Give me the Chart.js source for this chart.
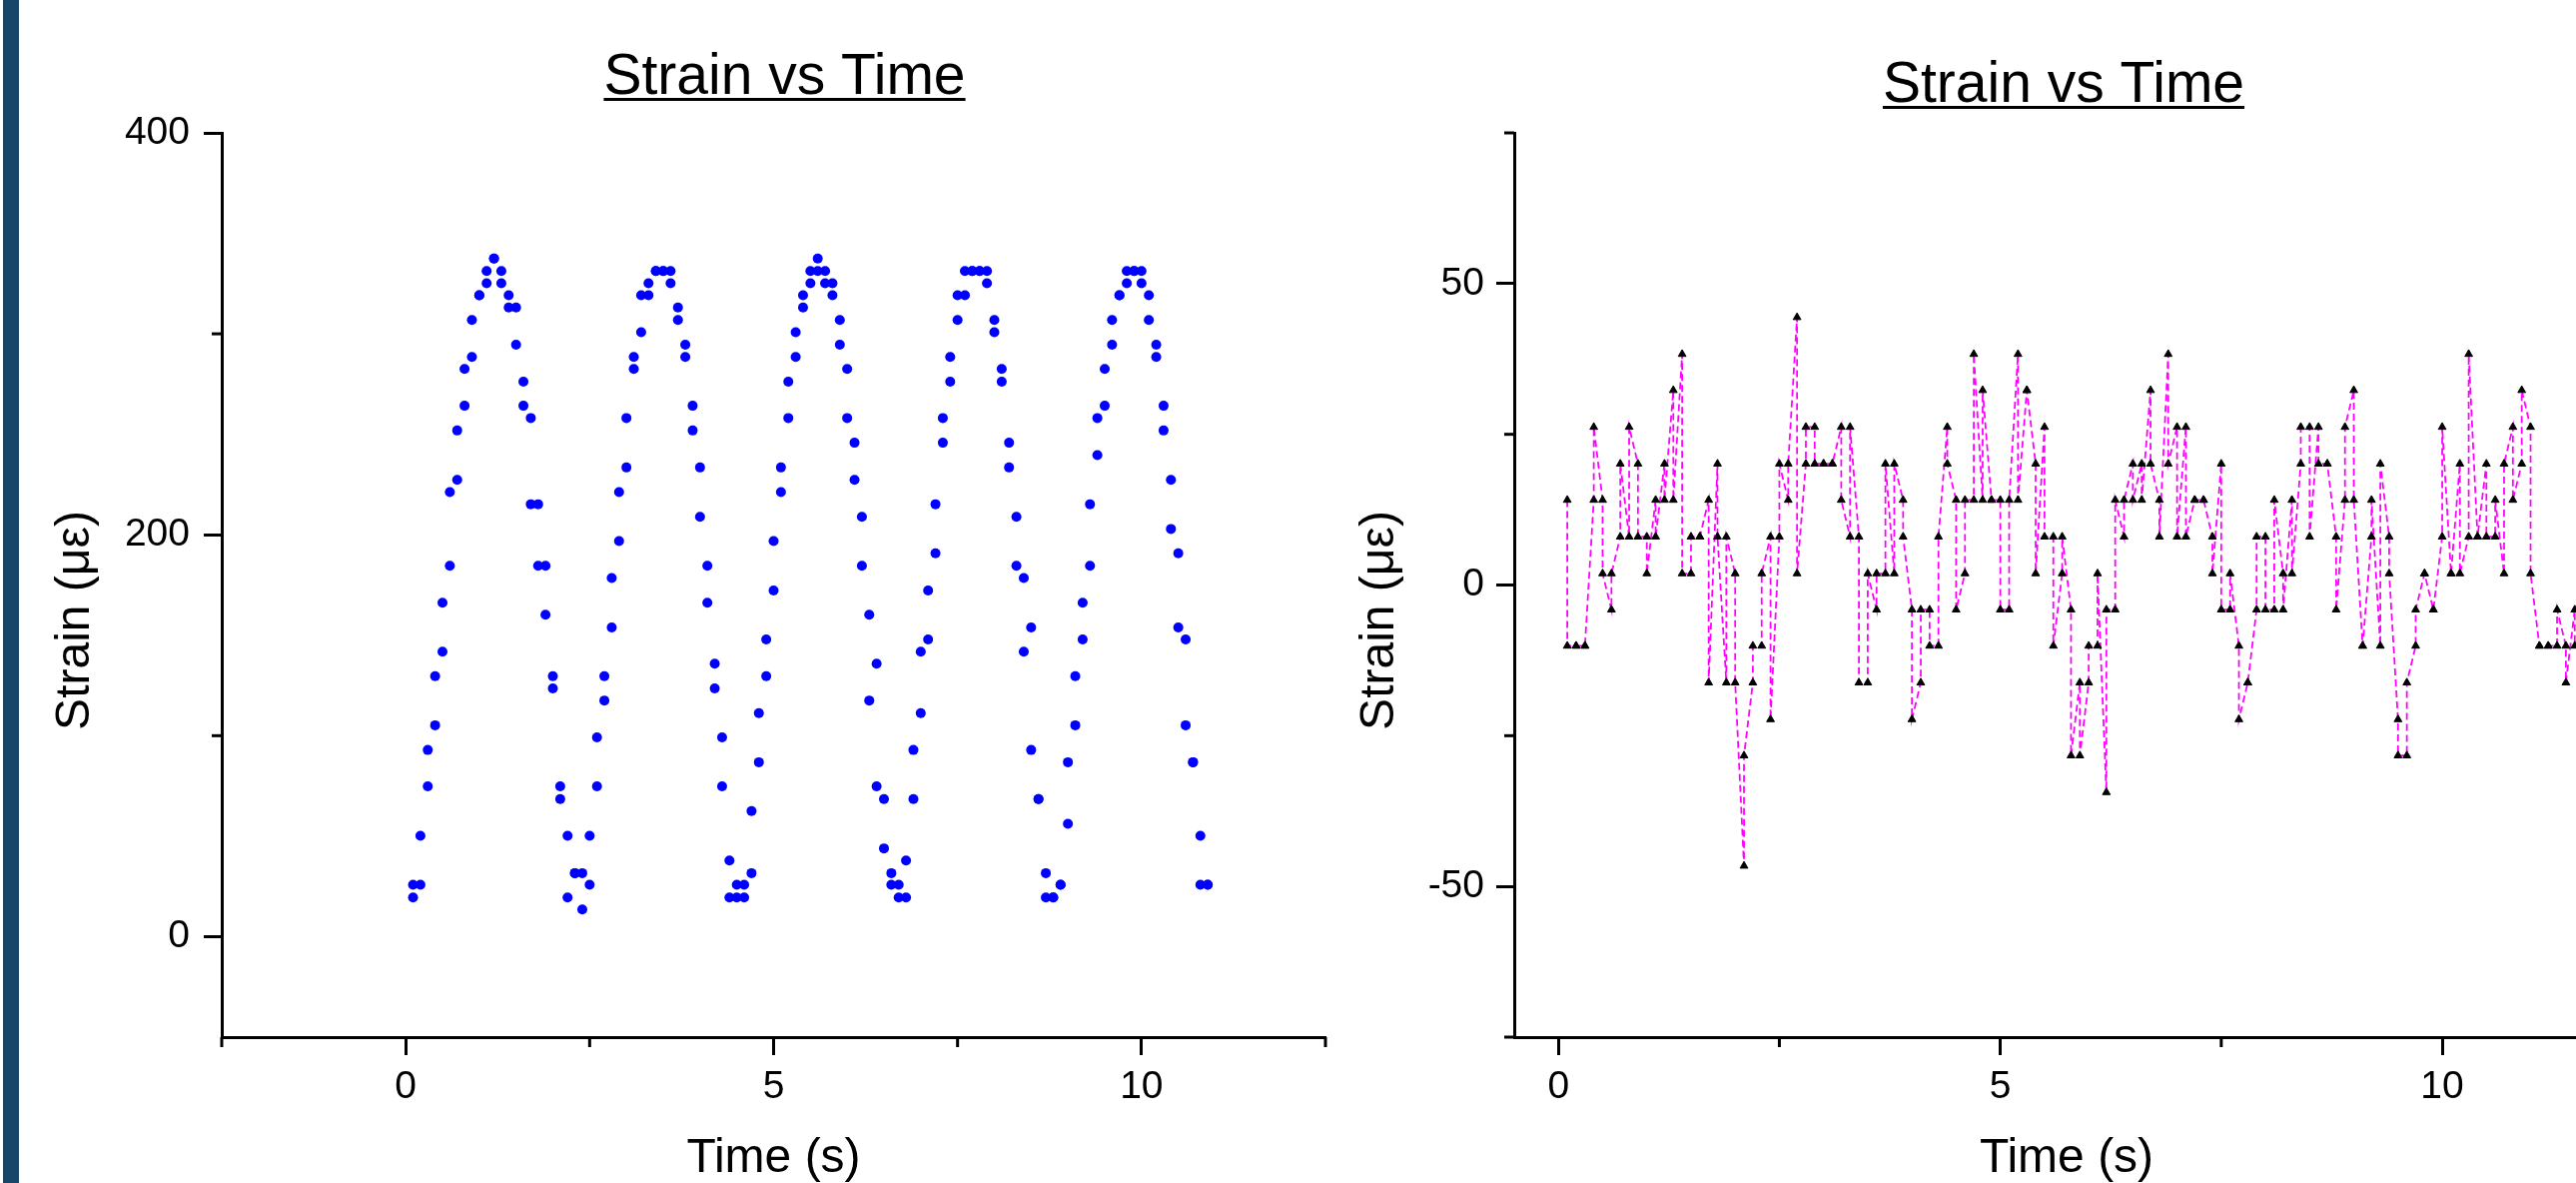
<!DOCTYPE html>
<html>
<head>
<meta charset="utf-8">
<title>Strain vs Time</title>
<script src="https://cdn.jsdelivr.net/npm/chart.js@4.4.1/dist/chart.umd.min.js"></script>
<style>
  html, body { margin: 0; padding: 0; background: #fff; width: 2579px; height: 1184px; overflow: hidden; position: relative; }
  #sidebar { position: absolute; left: 3px; top: 0; width: 16px; height: 1184px; background: #184669; }
  canvas { position: absolute; top: 0; width: 1400px; height: 1184px; }
  #leftChart { left: 0; }
  #rightChart { left: 1340px; }
</style>
</head>
<body>
<div id="sidebar"></div>
<canvas id="leftChart" width="1400" height="1184"></canvas>
<canvas id="rightChart" width="1400" height="1184"></canvas>
<script>
// sample times (s): two readings were logged at every 0.1 s step
const timeSteps = [
  0.1, 0.2, 0.3, 0.4, 0.5, 0.6, 0.7, 0.8, 0.9, 1.0,
  1.1, 1.2, 1.3, 1.4, 1.5, 1.6, 1.7, 1.8, 1.9, 2.0,
  2.1, 2.2, 2.3, 2.4, 2.5, 2.6, 2.7, 2.8, 2.9, 3.0,
  3.1, 3.2, 3.3, 3.4, 3.5, 3.6, 3.7, 3.8, 3.9, 4.0,
  4.1, 4.2, 4.3, 4.4, 4.5, 4.6, 4.7, 4.8, 4.9, 5.0,
  5.1, 5.2, 5.3, 5.4, 5.5, 5.6, 5.7, 5.8, 5.9, 6.0,
  6.1, 6.2, 6.3, 6.4, 6.5, 6.6, 6.7, 6.8, 6.9, 7.0,
  7.1, 7.2, 7.3, 7.4, 7.5, 7.6, 7.7, 7.8, 7.9, 8.0,
  8.1, 8.2, 8.3, 8.4, 8.5, 8.6, 8.7, 8.8, 8.9, 9.0,
  9.1, 9.2, 9.3, 9.4, 9.5, 9.6, 9.7, 9.8, 9.9, 10.0,
  10.1, 10.2, 10.3, 10.4, 10.5, 10.6, 10.7, 10.8, 10.9, 11.0,
  11.1, 11.2, 11.3, 11.4, 11.5
];

// left panel: strain (µε), first and second reading of each step (0.1 .. 10.9 s)
const leftFirst = [
  25.8, 25.8, 74.8, 105.2, 141.8, 184.6, 227.3, 264.2, 288.5, 319.2,
  325.2, 337.5, 331.3, 319.2, 313.1, 276.2, 258.1, 215.2, 184.6, 129.6,
  74.8, 50.2, 31.6, 31.6, 25.8, 74.8, 117.5, 153.9, 196.9, 233.5,
  282.5, 300.8, 319.2, 331.3, 331.3, 331.3, 313.1, 294.6, 264.2, 233.5,
  184.6, 135.8, 99.2, 37.9, 25.8, 25.8, 31.6, 86.8, 129.6, 172.3,
  221.2, 258.1, 288.5, 313.1, 325.2, 331.3, 331.3, 325.2, 306.9, 282.5,
  245.8, 208.9, 160.2, 135.8, 68.5, 31.6, 25.8, 37.9, 92.9, 141.8,
  172.3, 215.2, 258.1, 288.5, 319.2, 331.3, 331.3, 331.3, 331.3, 306.9,
  282.5, 245.8, 208.9, 178.5, 153.9, 68.5, 31.6, 19.5, 25.8, 86.8,
  129.6, 166.2, 215.2, 258.1, 282.5, 306.9, 319.2, 331.3, 331.3, 331.3,
  319.2, 294.6, 264.2, 227.3, 190.8, 147.9, 86.8, 50.2, 25.8
];
const leftSecond = [
  19.5, 50.2, 92.9, 129.6, 166.2, 221.2, 251.9, 282.5, 306.9, 319.2,
  331.3, 337.5, 325.2, 313.1, 294.6, 264.2, 215.2, 184.6, 160.2, 123.5,
  68.5, 19.5, 31.6, 13.5, 50.2, 99.2, 129.6, 178.5, 221.2, 258.1,
  288.5, 319.2, 325.2, 331.3, 331.3, 325.2, 306.9, 288.5, 251.9, 208.9,
  166.2, 123.5, 74.8, 19.5, 19.5, 19.5, 62.5, 111.2, 147.9, 196.9,
  233.5, 276.2, 300.8, 319.2, 331.3, 337.5, 325.2, 319.2, 294.6, 258.1,
  227.3, 184.6, 117.5, 74.8, 43.9, 25.8, 19.5, 19.5, 68.5, 111.2,
  147.9, 190.8, 245.8, 276.2, 306.9, 319.2, 331.3, 331.3, 325.2, 300.8,
  276.2, 233.5, 184.6, 141.8, 92.9, 68.5, 19.5, 19.5, 25.8, 56.2,
  105.2, 147.9, 184.6, 239.6, 264.2, 294.6, 319.2, 325.2, 331.3, 325.2,
  306.9, 288.5, 251.9, 202.9, 153.9, 105.2, 86.8, 25.8, 25.8
];

// right panel: strain (µε), first and second reading of each step (0.1 .. 11.5 s)
const rightFirst = [
  14.1, -10.1, -10.1, 14.1, 14.1, -4.1, 8.0, 8.0, 20.1, 8.0,
  14.1, 20.1, 32.3, 38.3, 1.9, 8.0, 14.1, 20.1, -16.2, 1.9,
  -46.6, -16.2, -10.1, 8.0, 8.0, 14.1, 44.4, 20.1, 26.2, 20.1,
  20.1, 26.2, 8.0, 8.0, -16.2, -4.1, 1.9, 1.9, 14.1, -4.1,
  -16.2, -4.1, -10.1, 26.2, 14.1, 1.9, 14.1, 14.1, 14.1, 14.1,
  -4.1, 38.3, 32.3, 20.1, 26.2, 8.0, 1.9, -4.1, -16.2, -16.2,
  -10.1, -34.4, -4.1, 8.0, 20.1, 20.1, 32.3, 14.1, 38.3, 26.2,
  26.2, 14.1, 14.1, 8.0, 20.1, -4.1, -10.1, -16.2, -4.1, 8.0,
  -4.1, 1.9, 14.1, 20.1, 26.2, 26.2, 20.1, 8.0, 14.1, 32.3,
  -10.1, 8.0, -10.1, 8.0, -22.3, -28.3, -10.1, 1.9, -4.1, 8.0,
  1.9, 20.1, 8.0, 8.0, 20.1, 8.0, 1.9, 26.2, 20.1, 26.2,
  -10.1, -10.1, -10.1, -10.1, -4.1
];
const rightSecond = [
  -10.1, -10.1, -10.1, 26.2, 1.9, 1.9, 20.1, 26.2, 8.0, 1.9,
  8.0, 14.1, 14.1, 1.9, 8.0, 8.0, -16.2, 8.0, 8.0, -16.2,
  -28.3, -10.1, 1.9, -22.3, 20.1, 20.1, 1.9, 26.2, 20.1, 20.1,
  20.1, 14.1, 26.2, -16.2, 1.9, 1.9, 20.1, 20.1, 8.0, -22.3,
  -4.1, -10.1, 8.0, 20.1, -4.1, 14.1, 38.3, 32.3, 14.1, -4.1,
  14.1, 14.1, 32.3, 1.9, 8.0, -10.1, 8.0, -28.3, -28.3, -10.1,
  1.9, -4.1, 14.1, 14.1, 14.1, 14.1, 20.1, 8.0, 20.1, 8.0,
  8.0, 14.1, 14.1, 1.9, -4.1, 1.9, -22.3, -16.2, 8.0, -4.1,
  14.1, -4.1, 1.9, 26.2, 8.0, 20.1, 20.1, -4.1, 26.2, 14.1,
  -10.1, 14.1, 20.1, 1.9, -28.3, -16.2, -4.1, 1.9, -4.1, 26.2,
  1.9, 1.9, 38.3, 8.0, 8.0, 14.1, 20.1, 14.1, 32.3, 1.9,
  -10.1, -10.1, -4.1, -16.2, -10.1
];

// axis ticks
const leftXMajor = [0, 5, 10];
const leftXMinor = [-2.5, 2.5, 7.5, 12.5];
const leftYMajor = [0, 200, 400];
const leftYMinor = [100, 300];
const rightXMajor = [0, 5, 10];
const rightXMinor = [2.5, 7.5];
const rightYMajor = [-50, 0, 50];
const rightYMinor = [-75, -25, 25, 75];

const FONT = '"Liberation Sans", Arial, sans-serif';
Chart.defaults.font.family = FONT;
Chart.defaults.color = '#000';

function pairsToPoints(times, first, second) {
  const pts = [];
  first.forEach((v, i) => {
    pts.push({ x: times[i], y: v });
    pts.push({ x: times[i], y: second[i] });
  });
  return pts;
}

// Origin-like decorations: underlined title, rotated y title, short minor ticks
const originDecor = {
  id: 'originDecor',
  afterDraw(chart, args, opts) {
    const ctx = chart.ctx;
    const area = chart.chartArea;
    const xs = chart.scales.x;
    const ys = chart.scales.y;
    ctx.save();
    ctx.strokeStyle = '#000';
    ctx.lineWidth = 3;
    opts.minorX.forEach(v => {
      const px = xs.getPixelForValue(v);
      ctx.beginPath();
      ctx.moveTo(px, area.bottom);
      ctx.lineTo(px, area.bottom + 10);
      ctx.stroke();
    });
    opts.minorY.forEach(v => {
      const py = ys.getPixelForValue(v);
      ctx.beginPath();
      ctx.moveTo(area.left, py);
      ctx.lineTo(area.left - 10, py);
      ctx.stroke();
    });

    ctx.fillStyle = '#000';
    ctx.textAlign = 'center';
    ctx.textBaseline = 'alphabetic';
    ctx.font = '57px ' + FONT;
    const cx = (area.left + area.right) / 2 + opts.titleShift;
    ctx.fillText(opts.title, cx, opts.titleBaseline);
    const w = ctx.measureText(opts.title).width;
    ctx.fillRect(cx - w / 2, opts.titleBaseline + 4, w, 3);

    ctx.translate(opts.yTitleX, opts.yTitleY);
    ctx.rotate(-Math.PI / 2);
    ctx.font = '48px ' + FONT;
    ctx.fillText(opts.yTitle, 0, 0);
    ctx.restore();
  }
};

function axis(min, max, major, size, isX, pad) {
  const cfg = {
    type: 'linear',
    min: min,
    max: max,
    afterBuildTicks: s => { s.ticks = major.map(v => ({ value: v })); },
    afterFit: s => { if (isX) { s.height = size; } else { s.width = size; } },
    ticks: { font: { size: 39 }, color: '#000', padding: pad, maxRotation: 0 },
    grid: { drawOnChartArea: false, drawTicks: true, tickLength: 18, tickWidth: 3, tickColor: '#000' },
    border: { display: true, color: '#000', width: 3 }
  };
  if (isX) {
    cfg.title = { display: true, text: 'Time (s)', color: '#000', font: { size: 48, lineHeight: 1 }, padding: { top: 0, bottom: 0 } };
  }
  return cfg;
}

function baseOptions(pad, scales, decor) {
  return {
    responsive: false,
    devicePixelRatio: 1,
    animation: false,
    events: [],
    layout: { padding: pad },
    scales: scales,
    plugins: {
      legend: { display: false },
      title: { display: false },
      tooltip: { enabled: false },
      originDecor: decor
    }
  };
}

new Chart(document.getElementById('leftChart'), {
  type: 'scatter',
  data: {
    datasets: [{
      label: 'Strain',
      data: pairsToPoints(timeSteps, leftFirst, leftSecond),
      pointStyle: 'circle',
      pointRadius: 5,
      pointBackgroundColor: '#0000ff',
      pointBorderWidth: 0,
      showLine: false
    }]
  },
  options: baseOptions(
    { top: 133, right: 73, bottom: 0, left: 0 },
    {
      x: axis(-2.5, 12.5, leftXMajor, 146, true, 9),
      y: axis(-50, 400, leftYMajor, 222, false, 14)
    },
    {
      title: 'Strain vs Time', titleShift: 11, titleBaseline: 94,
      yTitle: 'Strain (\u03bc\u03b5)', yTitleX: 89, yTitleY: 621,
      minorX: leftXMinor, minorY: leftYMinor
    }
  ),
  plugins: [originDecor]
});

new Chart(document.getElementById('rightChart'), {
  type: 'scatter',
  data: {
    datasets: [{
      label: 'Strain',
      data: pairsToPoints(timeSteps, rightFirst, rightSecond),
      showLine: true,
      borderColor: '#ff00ff',
      borderWidth: 1.8,
      borderDash: [7, 4],
      tension: 0,
      pointStyle: 'triangle',
      pointRadius: 4.5,
      pointBackgroundColor: '#000',
      pointBorderColor: '#000',
      pointBorderWidth: 1
    }]
  },
  options: baseOptions(
    { top: 133, right: 118, bottom: 0, left: 0 },
    {
      x: axis(-0.5, 12, rightXMajor, 146, true, 9),
      y: axis(-75, 75, rightYMajor, 176, false, 12)
    },
    {
      title: 'Strain vs Time', titleShift: -3, titleBaseline: 102,
      yTitle: 'Strain (\u03bc\u03b5)', yTitleX: 55, yTitleY: 621,
      minorX: rightXMinor, minorY: rightYMinor
    }
  ),
  plugins: [originDecor]
});
</script>
</body>
</html>
